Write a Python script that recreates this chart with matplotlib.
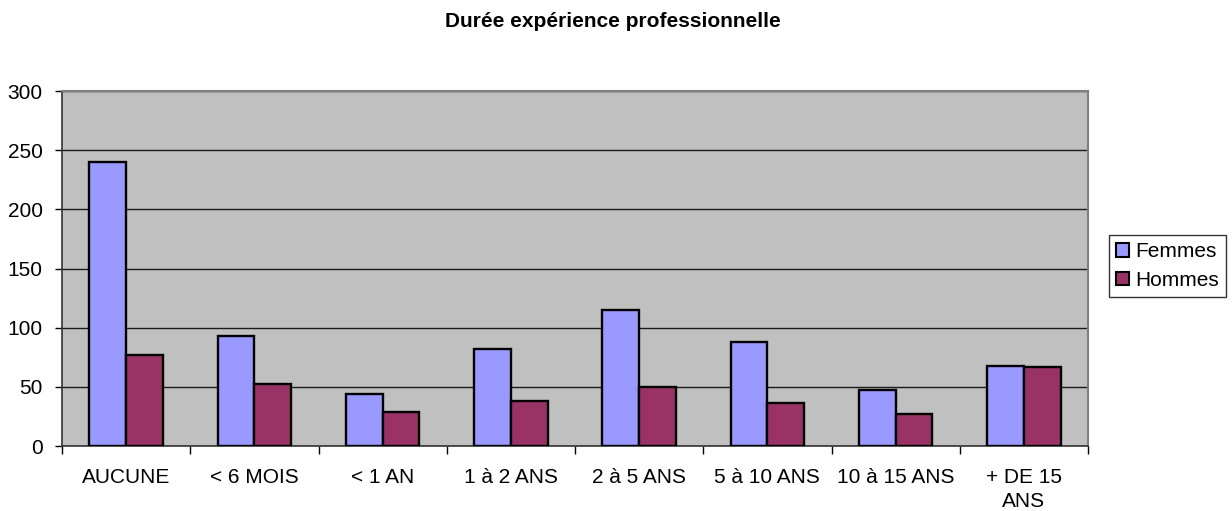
import matplotlib
matplotlib.use("Agg")
import matplotlib.pyplot as plt
import numpy as np
from matplotlib.ticker import FixedLocator, NullFormatter

plt.rcParams['font.family'] = ['Liberation Sans', 'DejaVu Sans']

categories = ["AUCUNE", "< 6 MOIS", "< 1 AN", "1 à 2 ANS", "2 à 5 ANS",
              "5 à 10 ANS", "10 à 15 ANS", "+ DE 15\nANS"]
femmes = [240, 93, 44, 82, 115, 88, 47, 68]
hommes = [77, 52, 29, 38, 50, 36, 27, 67]
series_names = ["Femmes", "Hommes"]
title = "Durée expérience professionnelle"
yticks = [0, 50, 100, 150, 200, 250, 300]

fig = plt.figure(figsize=(12.32, 5.11), dpi=100)
ax = fig.add_axes([62/1232, 1-446/511, (1088-62)/1232, (446-91)/511])
ax.set_facecolor('#C0C0C0')

x = np.arange(len(categories))
w = 1/3.5
ax.bar(x - w/2, femmes, w, color='#9999FF', edgecolor='black', linewidth=1.7,
       label=series_names[0], zorder=3)
ax.bar(x + w/2, hommes, w, color='#993366', edgecolor='black', linewidth=1.7,
       label=series_names[1], zorder=3)

ax.set_xlim(-0.5, len(categories) - 0.5)
ax.set_ylim(0, 300)
ax.set_yticks(yticks)
ax.yaxis.grid(True, color='#1a1a1a', linewidth=1.0, zorder=1)
ax.set_axisbelow(True)

ax.set_xticks(x)
ax.set_xticklabels(categories, fontsize=15, linespacing=1.3)
ax.xaxis.set_minor_locator(FixedLocator(np.arange(-0.5, len(categories), 1.0)))
ax.xaxis.set_minor_formatter(NullFormatter())
ax.tick_params(axis='x', which='major', length=0, pad=16)
ax.tick_params(axis='x', which='minor', length=6, width=1, color='black', direction='out')
ax.tick_params(axis='y', length=5, width=1, direction='out', labelsize=15, pad=9, color='black')

for s in ['top', 'right']:
    ax.spines[s].set_color('#808080')
    ax.spines[s].set_linewidth(1.5)
ax.spines['left'].set_color('#333333')
ax.spines['bottom'].set_color('#333333')
ax.spines['left'].set_linewidth(1.2)
ax.spines['bottom'].set_linewidth(1.2)

fig.text(613/1232, 1-27/511, title, ha='center', va='baseline',
         fontsize=15, fontweight='bold')

leg = ax.legend(loc='upper left', bbox_to_anchor=(1109/1232, 1-235/511),
                bbox_transform=fig.transFigure, borderaxespad=0, fontsize=15,
                frameon=True, fancybox=False, handlelength=0.6, handleheight=0.6,
                handletextpad=0.3, borderpad=0.35, labelspacing=0.45)
leg.get_frame().set_edgecolor('black')
leg.get_frame().set_linewidth(1.0)
for h in leg.legend_handles:
    h.set_linewidth(1.5)

fig.savefig('out.png', dpi=100, facecolor='white')
